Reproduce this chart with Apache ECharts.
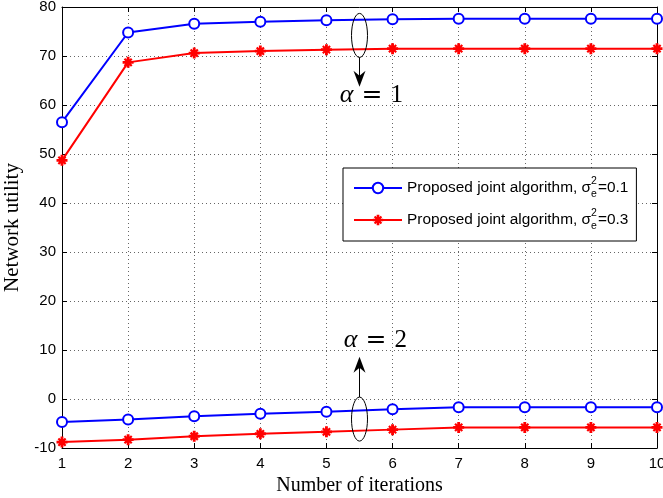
<!DOCTYPE html>
<html>
<head>
<meta charset="utf-8">
<script src="https://cdn.jsdelivr.net/npm/echarts@6/dist/echarts.min.js"></script>
<style>
  html, body { margin: 0; padding: 0; background: #fff; }
  #chart { width: 663px; height: 498px; }
</style>
</head>
<body>
<div id="chart"></div>
<script>
// values
const iterations = [1, 2, 3, 4, 5, 6, 7, 8, 9, 10];
const alpha1Var01 = [56.5, 74.8, 76.6, 77.0, 77.3, 77.5, 77.6, 77.6, 77.6, 77.6];
const alpha1Var03 = [48.7, 68.7, 70.6, 71.0, 71.3, 71.5, 71.5, 71.5, 71.5, 71.5];
const alpha2Var01 = [-4.7, -4.2, -3.5, -3.0, -2.6, -2.1, -1.7, -1.7, -1.7, -1.7];
const alpha2Var03 = [-8.8, -8.3, -7.6, -7.1, -6.7, -6.25, -5.8, -5.8, -5.8, -5.8];

const nameVar01 = 'Proposed joint algorithm, var=0.1';
const nameVar03 = 'Proposed joint algorithm, var=0.3';
const legendText = {};
legendText[nameVar01] = '0.1';
legendText[nameVar03] = '0.3';

// ellipse + arrow annotations, in data units
const annotations = [
  { x: 5.5, y: 74.2, tipY: 63.7, textX: 5.68, textY: 62.0, value: '1' },
  { x: 5.5, y: -4.1, tipY: 8.6, textX: 5.74, textY: 12.0, value: '2' }
];

const asterisk = 'path://M0 3.7L10 3.7L10 6.3L0 6.3ZM3.7 0L6.3 0L6.3 10L3.7 10ZM1 2.4L2.4 1L9 7.6L7.6 9ZM7.6 1L9 2.4L2.4 9L1 7.6Z';

const pairs = (ys) => iterations.map((x, i) => [x, ys[i]]);

const chart = echarts.init(document.getElementById('chart'));

function blueSeries(ys) {
  return {
    name: nameVar01, type: 'line', data: pairs(ys),
    symbol: 'emptyCircle', symbolSize: 10,
    lineStyle: { color: '#0000ff', width: 2 },
    itemStyle: { color: '#0000ff', borderWidth: 2 },
    animation: false
  };
}
function redSeries(ys) {
  return {
    name: nameVar03, type: 'line', data: pairs(ys),
    symbol: asterisk, symbolSize: 11,
    lineStyle: { color: '#ff0000', width: 2 },
    itemStyle: { color: '#ff0000' },
    animation: false
  };
}

const tickFont = { color: '#000', fontSize: 15, fontFamily: 'Liberation Sans' };
const boxLine = { show: true, onZero: false, lineStyle: { color: '#000', width: 1 } };
const tickIn = { show: true, inside: true, length: 5, lineStyle: { color: '#000' } };
const grid = { show: true, lineStyle: { color: '#666', width: 1, type: [1, 3] } };

chart.setOption({
  animation: false,
  backgroundColor: '#fff',
  grid: { left: 62, right: 6, top: 7, bottom: 50, outerBoundsMode: 'none', containLabel: false },
  legend: {
    data: [nameVar01, nameVar03],
    orient: 'vertical',
    left: 343, top: 168,
    padding: [8, 8, 9, 10],
    itemGap: 8,
    itemWidth: 48, itemHeight: 13,
    backgroundColor: '#fff',
    borderColor: '#000', borderWidth: 1, borderRadius: 0,
    selectedMode: false,
    formatter: (name) => '{t|Proposed joint algorithm, σ}{sup|2}{sub|e}{t|=' + legendText[name] + '}',
    textStyle: {
      rich: {
        t: { fontSize: 15.4, fontFamily: 'Liberation Sans', color: '#000', lineHeight: 24 },
        sup: { fontSize: 10.5, fontFamily: 'Liberation Sans', color: '#000', lineHeight: 20, verticalAlign: 'top', width: 0, align: 'left' },
        sub: { fontSize: 10.5, fontFamily: 'Liberation Sans', color: '#000', lineHeight: 6, verticalAlign: 'bottom', width: 7, align: 'left' }
      }
    }
  },
  xAxis: [
    {
      type: 'value', min: 1, max: 10, interval: 1, position: 'bottom',
      axisLine: boxLine, axisTick: tickIn,
      axisLabel: Object.assign({ margin: 8 }, tickFont),
      splitLine: grid,
      name: 'Number of iterations', nameLocation: 'middle', nameGap: 26,
      nameTextStyle: { color: '#000', fontSize: 20, fontFamily: 'Liberation Serif' }
    },
    {
      type: 'value', min: 1, max: 10, interval: 1, position: 'top',
      axisLine: boxLine, axisTick: tickIn,
      axisLabel: { show: false }, splitLine: { show: false }
    }
  ],
  yAxis: [
    {
      type: 'value', min: -10, max: 80, interval: 10, position: 'left',
      axisLine: boxLine, axisTick: tickIn,
      axisLabel: Object.assign({ margin: 6 }, tickFont),
      splitLine: grid,
      name: 'Network utility', nameLocation: 'middle', nameGap: 36,
      nameTextStyle: { color: '#000', fontSize: 21, fontFamily: 'Liberation Serif' }
    },
    {
      type: 'value', min: -10, max: 80, interval: 10, position: 'right',
      axisLine: boxLine, axisTick: tickIn,
      axisLabel: { show: false }, splitLine: { show: false }
    }
  ],
  series: [
    blueSeries(alpha1Var01),
    redSeries(alpha1Var03),
    blueSeries(alpha2Var01),
    redSeries(alpha2Var03)
  ]
});

// annotations placed through the grid's own coordinate conversion
function annotationGraphics() {
  const els = [];
  const rx = 8, ry = 22;
  annotations.forEach((a) => {
    const c = chart.convertToPixel({ gridIndex: 0 }, [a.x, a.y]);
    const tip = chart.convertToPixel({ gridIndex: 0 }, [a.x, a.tipY]);
    const t = chart.convertToPixel({ gridIndex: 0 }, [a.textX, a.textY]);
    const dir = tip[1] > c[1] ? 1 : -1;
    const x = c[0], ty = tip[1];
    els.push({
      type: 'ellipse', z: 100,
      shape: { cx: x, cy: c[1], rx: rx, ry: ry },
      style: { fill: 'none', stroke: '#000', lineWidth: 1 }
    });
    els.push({
      type: 'line', z: 100,
      shape: { x1: x, y1: c[1] + dir * ry, x2: x, y2: ty - dir * 10 },
      style: { stroke: '#000', lineWidth: 1 }
    });
    els.push({
      type: 'polygon', z: 100,
      shape: { points: [[x, ty], [x - 6, ty - dir * 16], [x, ty - dir * 11], [x + 6, ty - dir * 16]] },
      style: { fill: '#000' }
    });
    els.push({
      type: 'text', z: 100, x: t[0], y: t[1],
      style: {
        text: '{a|α}{e|=}{n|' + a.value + '}',
        align: 'center', verticalAlign: 'middle',
        rich: {
          a: { fontSize: 26, fontStyle: 'italic', fontFamily: 'Liberation Serif', color: '#000' },
          e: { fontSize: 25, fontFamily: 'DejaVu Serif', color: '#000', padding: [0, 8, 0, 8] },
          n: { fontSize: 25, fontFamily: 'Liberation Serif', color: '#000' }
        }
      }
    });
  });
  return els;
}

chart.setOption({ graphic: annotationGraphics() });
</script>
</body>
</html>
